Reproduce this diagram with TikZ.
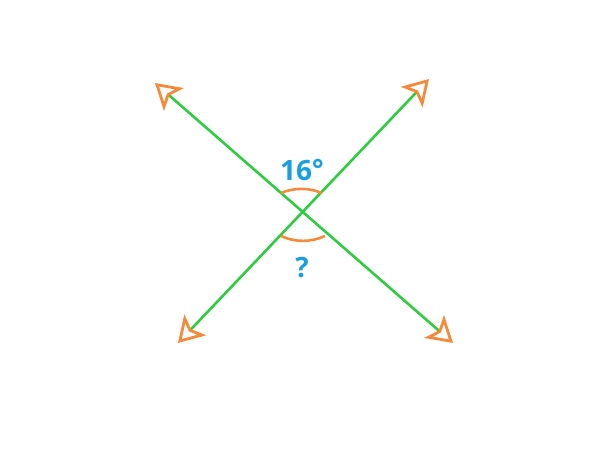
\documentclass[tikz,border=0pt]{standalone}
\usepackage{fontspec}
\setmainfont{Open Sans}
\usetikzlibrary{arrows.meta}
\definecolor{lgreen}{HTML}{2ECC40}
\definecolor{lorange}{HTML}{F58A3A}
\definecolor{lblue}{HTML}{1B9EE0}
\tikzset{
  ray/.style={draw=lgreen, line width=2.6pt, {Stealth[open, length=25pt, width=30pt, inset=6pt, color=lorange, line width=2.8pt]}-{Stealth[open, length=25pt, width=30pt, inset=6pt, color=lorange, line width=2.8pt]}},
  anglemark/.style={draw=lorange, line width=2.6pt},
  lbl/.style={text=lblue, font=\fontsize{28}{30}\selectfont\bfseries, inner sep=0pt}
}
\begin{document}
\begin{tikzpicture}[x=1pt, y=-1pt]
\useasboundingbox (0,0) rectangle (600,450);
\coordinate (TL) at (155,83);
\coordinate (BR) at (453,343);
\coordinate (BL) at (178,343);
\coordinate (TR) at (429,79);
\coordinate (O) at (303,212);
\path[ray] (TL) -- (BR);
\path[ray] (BL) -- (TR);
\draw[anglemark] (281,193) arc[start angle=-113, end angle=-67, radius=52];
\draw[anglemark] (281,236) arc[start angle=115, end angle=65, radius=52];
\node[lbl] (a) at (302,170) {16\raisebox{0.1ex}{°}};
\node[lbl] (q) at (302,268) {?};
\end{tikzpicture}
\end{document}
